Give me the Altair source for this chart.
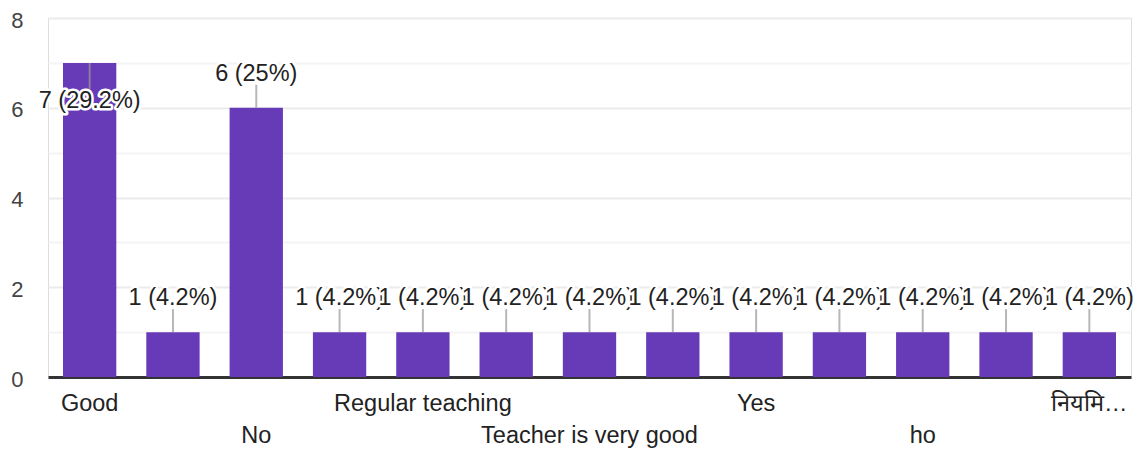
import altair as alt
import pandas as pd

categories = ["Good", "Nice", "No", "Ok", "Regular teaching", "Satisfied",
              "Teacher is very good", "Very good", "Yes", "Excellent", "ho", "Best", "नियमित"]
values = [7, 1, 6, 1, 1, 1, 1, 1, 1, 1, 1, 1, 1]
axis_labels = ["Good", "", "No", "", "Regular teaching", "", "Teacher is very good",
               "", "Yes", "", "ho", "", "नियमि…"]
label_rows = [1, 0, 2, 0, 1, 0, 2, 0, 1, 0, 2, 0, 1]

df = pd.DataFrame({"category": categories, "value": values,
                   "axis_label": axis_labels, "row": label_rows})

FONT = "Liberation Sans"
PURPLE = "#673AB7"
FS = 23.5

xscale = alt.Scale(domain=categories, paddingInner=0.36, paddingOuter=0.18)
yscale = alt.Scale(domain=[0, 8], nice=False)

base = alt.Chart(df).transform_joinaggregate(total="sum(value)").transform_calculate(
    lbl="datum.value + ' (' + format(datum.value / datum.total * 100, '.1~f') + '%)'"
)

def xe():
    return alt.X("category:N", scale=xscale, sort=categories)

def ye():
    return alt.Y("value:Q", scale=yscale)

bars = base.mark_bar(color=PURPLE).encode(
    x=alt.X("category:N", scale=xscale, sort=categories,
            axis=alt.Axis(title=None, labels=False, ticks=False, domain=True,
                          domainColor="#333333", domainWidth=3, grid=False)),
    y=alt.Y("value:Q", scale=yscale,
            axis=alt.Axis(title=None, values=[0, 1, 2, 3, 4, 5, 6, 7, 8],
                          labelExpr="datum.value % 2 == 0 ? datum.label : ''",
                          ticks=False, domain=False, labelPadding=25, labelOffset=2,
                          labelFont=FONT, labelFontSize=22, labelColor="#444444",
                          gridColor={"condition": {"test": "datum.value % 2 == 1", "value": "#f4f4f4"},
                                     "value": "#ebebeb"},
                          gridWidth=2)),
)

low = base.transform_filter("datum.value < 7")
high = base.transform_filter("datum.value >= 7")

conn_low = low.mark_tick(orient="vertical", size=23, thickness=2, color="#999999",
                         yOffset=-11.5).encode(x=xe(), y=ye())
conn_high = high.mark_tick(orient="vertical", size=26, thickness=2, color="#999999",
                           yOffset=13).encode(x=xe(), y=ye())

def labels(src, dy):
    enc = dict(x=xe(), y=ye(), text="lbl:N")
    halo = src.mark_text(font=FONT, fontSize=FS, dy=dy, baseline="middle",
                         stroke="white", strokeWidth=5, strokeJoin="round",
                         color="white").encode(**enc)
    txt = src.mark_text(font=FONT, fontSize=FS, dy=dy, baseline="middle",
                        color="#222222").encode(**enc)
    return [halo, txt]

label_layers = []
for c in categories:
    v = values[categories.index(c)]
    src = base.transform_filter(alt.datum.category == c)
    label_layers += labels(src, 38 if v >= 7 else -34)

row1 = base.transform_filter("datum.row == 1").mark_text(
    font=FONT, fontSize=FS, baseline="middle", color="#222222").encode(
    x=xe(), y=alt.value(386), text="axis_label:N")
row2 = base.transform_filter("datum.row == 2").mark_text(
    font=FONT, fontSize=FS, baseline="middle", color="#222222").encode(
    x=xe(), y=alt.value(418), text="axis_label:N")

chart = alt.layer(bars, conn_low, conn_high, *label_layers, row1, row2).properties(
    width=1083, height=359,
    autosize=alt.AutoSizeParams(type="none"),
    padding={"left": 40, "top": 10, "right": 8, "bottom": 72},
).configure_view(stroke="#eeeeee", strokeWidth=2).configure(background="white")

chart.save("out.html", embed_options={"renderer": "svg", "actions": False})
